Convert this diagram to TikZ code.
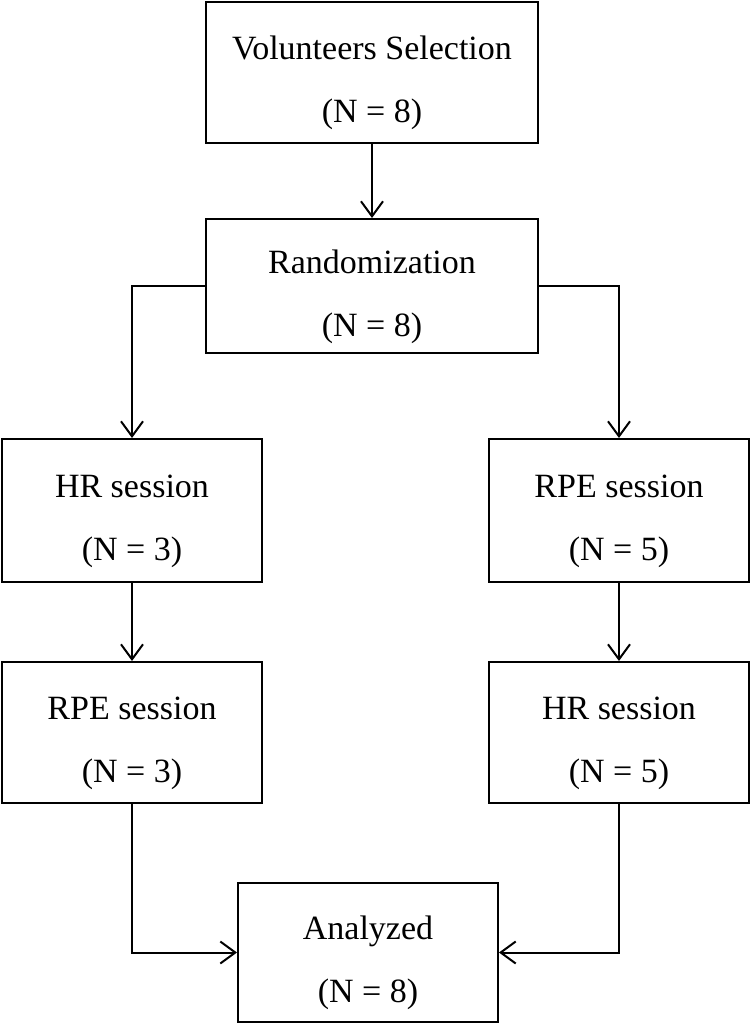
\documentclass[tikz,border=0pt]{standalone}
\usepackage{fontspec}
\setmainfont{Liberation Serif}
\usetikzlibrary{arrows.meta}
\begin{document}
\begin{tikzpicture}[x=1pt,y=-1pt,
  box/.style={draw=black,line width=2pt,rectangle,inner sep=0pt},
  txt/.style={align=center,font=\fontsize{34}{63}\selectfont,inner sep=0pt,yshift=-10.5pt},
  arr/.style={line width=2pt,-{Straight Barb[length=15pt,width=22pt,line width=2pt]}}]
\useasboundingbox (0,0) rectangle (750,1026);
\node[box,minimum width=332pt,minimum height=141pt] (sel) at (372,72.5) {};
\node[box,minimum width=332pt,minimum height=134pt] (rand) at (372,286) {};
\node[box,minimum width=260pt,minimum height=143pt] (hrL) at (132,510.5) {};
\node[box,minimum width=260pt,minimum height=143pt] (rpeR) at (619,510.5) {};
\node[box,minimum width=260pt,minimum height=141pt] (rpeL) at (132,732.5) {};
\node[box,minimum width=260pt,minimum height=141pt] (hrR) at (619,732.5) {};
\node[box,minimum width=260pt,minimum height=139pt] (an) at (368,952.5) {};
\node[txt] (tsel) at (sel) {Volunteers Selection\\(N = 8)};
\node[txt] (trand) at (rand) {Randomization\\(N = 8)};
\node[txt] (thrL) at (hrL) {HR session\\(N = 3)};
\node[txt] (trpeR) at (rpeR) {RPE session\\(N = 5)};
\node[txt] (trpeL) at (rpeL) {RPE session\\(N = 3)};
\node[txt] (thrR) at (hrR) {HR session\\(N = 5)};
\node[txt] (tan) at (an) {Analyzed\\(N = 8)};
\draw[arr] (sel) -- (rand);
\draw[arr] (rand.west) -| (hrL);
\draw[arr] (rand.east) -| (rpeR);
\draw[arr] (hrL) -- (rpeL);
\draw[arr] (rpeR) -- (hrR);
\draw[arr] (rpeL) |- (an);
\draw[arr] (hrR) |- (an);
\end{tikzpicture}
\end{document}
